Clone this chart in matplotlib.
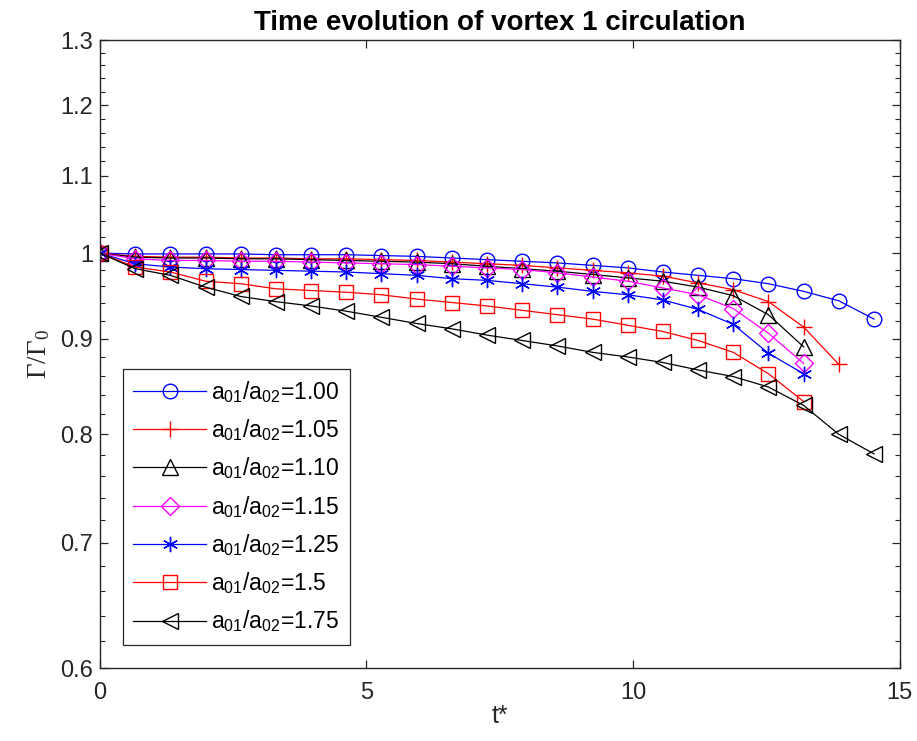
import numpy as np
import matplotlib
matplotlib.use('Agg')
import matplotlib.pyplot as plt
from matplotlib.ticker import MultipleLocator, NullFormatter, FixedLocator

plt.rcParams['font.family'] = ['Liberation Sans', 'DejaVu Sans']
plt.rcParams['mathtext.default'] = 'regular'

# --- data (time step 0.66) ---
dt = 0.66
g100 = [1.0, 0.999, 0.999, 0.999, 0.999, 0.998, 0.998, 0.998, 0.997, 0.996, 0.994, 0.992,
        0.990, 0.988, 0.985, 0.982, 0.977, 0.973, 0.969, 0.963, 0.954, 0.943, 0.922]
g105 = [1.0, 0.996, 0.995, 0.995, 0.994, 0.994, 0.993, 0.993, 0.992, 0.991, 0.989, 0.987,
        0.985, 0.982, 0.979, 0.976, 0.972, 0.964, 0.956, 0.942, 0.913, 0.872]
g110 = [1.0, 0.995, 0.994, 0.994, 0.993, 0.993, 0.992, 0.991, 0.990, 0.989, 0.987, 0.984,
        0.981, 0.978, 0.974, 0.970, 0.966, 0.959, 0.949, 0.927, 0.891]
g115 = [1.0, 0.993, 0.991, 0.991, 0.990, 0.990, 0.989, 0.988, 0.987, 0.986, 0.984, 0.982,
        0.980, 0.976, 0.971, 0.966, 0.958, 0.950, 0.934, 0.906, 0.873]
g125 = [1.0, 0.987, 0.983, 0.981, 0.980, 0.979, 0.978, 0.977, 0.975, 0.973, 0.969, 0.967,
        0.963, 0.959, 0.954, 0.950, 0.944, 0.933, 0.916, 0.884, 0.862]
g150 = [1.0, 0.983, 0.977, 0.966, 0.963, 0.957, 0.955, 0.953, 0.950, 0.945, 0.941, 0.937,
        0.932, 0.927, 0.922, 0.915, 0.908, 0.898, 0.885, 0.862, 0.833]
g175 = [1.0, 0.981, 0.973, 0.959, 0.948, 0.942, 0.937, 0.931, 0.924, 0.917, 0.911, 0.904,
        0.898, 0.892, 0.885, 0.880, 0.874, 0.866, 0.859, 0.848, 0.829, 0.800, 0.781]

ratios = ['1.00', '1.05', '1.10', '1.15', '1.25', '1.5', '1.75']
series = [g100, g105, g110, g115, g125, g150, g175]
colors = ['#0000ff', '#ff0000', '#000000', '#ff00ff', '#0000ff', '#ff0000', '#000000']
markers = ['o', '+', '^', 'D', (6, 2, 0), 's', '<']
msizes = [10.5, 11, 12, 9, 11, 9.5, 12]

yticks = [0.6, 0.7, 0.8, 0.9, 1.0, 1.1, 1.2, 1.3]
ytick_labels = ['0.6', '0.7', '0.8', '0.9', '1', '1.1', '1.2', '1.3']

fig = plt.figure(figsize=(9.17, 7.41), dpi=100)
ax = fig.add_axes([0.109, 0.0985, 0.872, 0.8475])

for r, g, c, m, ms in zip(ratios, series, colors, markers, msizes):
    t = np.arange(len(g)) * dt
    ax.plot(t, g, color=c, marker=m, markersize=ms, markerfacecolor='none',
            markeredgecolor=c, markeredgewidth=1.0, linewidth=0.9,
            label='a$_{01}$/a$_{02}$=' + r)

ax.set_yscale('log')
ax.set_xlim(0, 15)
ax.set_ylim(0.6, 1.3)
ax.yaxis.set_major_locator(FixedLocator(yticks))
ax.set_yticklabels(ytick_labels)
ax.yaxis.set_minor_locator(MultipleLocator(0.02))
ax.yaxis.set_minor_formatter(NullFormatter())
ax.set_xticks([0, 5, 10, 15])

dark = '#262626'
for s in ax.spines.values():
    s.set_color(dark)
    s.set_linewidth(1.0)
ax.tick_params(which='both', direction='in', top=True, right=True, colors=dark,
               labelsize=17)
ax.tick_params(which='major', length=5.5, width=0.9)
ax.tick_params(which='minor', length=3.5, width=0.8)
ax.tick_params(axis='x', pad=10)
ax.tick_params(axis='y', pad=5)

ax.set_title('Time evolution of vortex 1 circulation', fontsize=20,
             fontweight='bold', pad=7)
ax.set_xlabel('t*', fontsize=18, color=dark, labelpad=0)
ax.set_ylabel('Γ/Γ$_0$', fontsize=19.5, family='Liberation Serif', color=dark,
              labelpad=6)

leg = ax.legend(loc='lower left', bbox_to_anchor=(0.029, 0.037), fontsize=16.5,
                frameon=True, fancybox=False, framealpha=1, edgecolor=dark,
                handlelength=3.15, labelspacing=0.54, borderpad=0.45,
                handletextpad=0.25, borderaxespad=0)
leg.get_frame().set_linewidth(0.9)

plt.savefig('out.png', dpi=100)
